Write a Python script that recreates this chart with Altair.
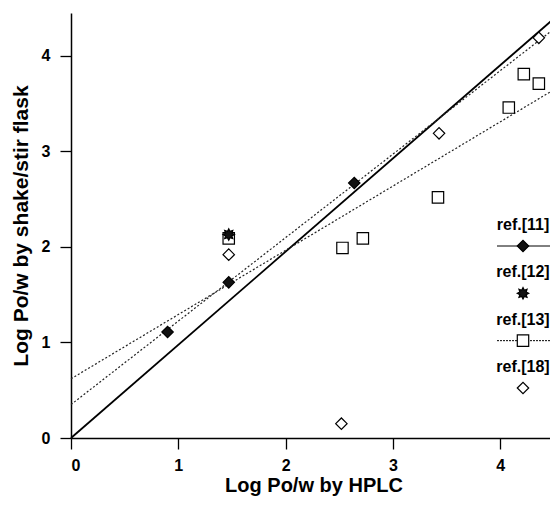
import altair as alt
import pandas as pd

FONT = "Liberation Sans"

# ---- data ----
series_names = ["ref.[11]", "ref.[12]", "ref.[13]", "ref.[18]"]

ref11_x = [0.90, 1.47, 2.64]
ref11_y = [1.11, 1.63, 2.67]
ref12_x = [1.47]
ref12_y = [2.13]
ref13_x = [1.47, 2.53, 2.72, 3.42, 4.08, 4.22, 4.36]
ref13_y = [2.09, 1.99, 2.09, 2.52, 3.46, 3.81, 3.71]
ref18_x = [1.47, 2.52, 3.43, 4.36]
ref18_y = [1.92, 0.15, 3.19, 4.19]

# reference / fitted lines: end points
solid_x = [0.0, 4.52]
solid_y = [0.0, 4.41]
fit_a_x = [0.0, 4.52]
fit_a_y = [0.62, 3.66]
fit_b_x = [0.0, 4.52]
fit_b_y = [0.35, 4.30]

x_ticks = [0, 1, 2, 3, 4]
y_ticks = [0, 1, 2, 3, 4]
x_domain = [0, 4.52]
y_domain = [0, 4.45]

# ---- tables ----
rows = []
# draw order: open squares, open diamonds, filled diamonds, star
for name, xs, ys in [("ref.[13]", ref13_x, ref13_y), ("ref.[18]", ref18_x, ref18_y),
                     ("ref.[11]", ref11_x, ref11_y), ("ref.[12]", ref12_x, ref12_y)]:
    for a, b in zip(xs, ys):
        rows.append({"series": name, "x": a, "y": b})
pts = pd.DataFrame(rows)

solid_df = pd.DataFrame({"x": solid_x, "y": solid_y})
fit_a_df = pd.DataFrame({"x": fit_a_x, "y": fit_a_y})
fit_b_df = pd.DataFrame({"x": fit_b_x, "y": fit_b_y})

leg = pd.DataFrame({"name": series_names})

STAR = ("M0,-1L0.23,-0.55L0.71,-0.71L0.55,-0.23L1,0L0.55,0.23L0.71,0.71L0.23,0.55L0,1"
        "L-0.23,0.55L-0.71,0.71L-0.55,0.23L-1,0L-0.55,-0.23L-0.71,-0.71L-0.23,-0.55Z")

shape_scale = alt.Scale(domain=series_names, range=["diamond", STAR, "square", "diamond"])
fill_scale = alt.Scale(domain=series_names, range=["#111111", "#111111", "#ffffff", "#ffffff"])
size_scale = alt.Scale(domain=series_names, range=[130, 130, 121, 95])

X = alt.X("x:Q", scale=alt.Scale(domain=x_domain, nice=False, zero=False),
          axis=alt.Axis(title="Log Po/w by HPLC", values=x_ticks, format="d", grid=False,
                        orient="bottom", labelPadding=8, titlePadding=2, titleFontSize=20))
Y = alt.Y("y:Q", scale=alt.Scale(domain=y_domain, nice=False, zero=False),
          axis=alt.Axis(title="Log Po/w by shake/stir flask", values=y_ticks, format="d",
                        grid=False, orient="left", labelPadding=10, titlePadding=10))

solid = alt.Chart(solid_df).mark_line(color="#000000", strokeWidth=1.8).encode(x=X, y=Y)
fit_a = alt.Chart(fit_a_df).mark_line(color="#222222", strokeWidth=1.2, strokeDash=[2, 2]).encode(x=X, y=Y)
fit_b = alt.Chart(fit_b_df).mark_line(color="#222222", strokeWidth=1.2, strokeDash=[2, 2]).encode(x=X, y=Y)

points = alt.Chart(pts).mark_point(filled=True, stroke="#000000", strokeWidth=1.2, opacity=1).encode(
    x=X, y=Y,
    shape=alt.Shape("series:N", scale=shape_scale, legend=None),
    fill=alt.Fill("series:N", scale=fill_scale, legend=None),
    size=alt.Size("series:N", scale=size_scale, legend=None),
)

# ---- legend drawn inside the plot: stacked entries via an offset scale ----
LOFF = alt.YOffset("name:N", scale=alt.Scale(type="point", domain=series_names,
                                             range=[0, 142], padding=0))

leg_rule11 = alt.Chart(leg).transform_filter(alt.datum.name == "ref.[11]").mark_rule(
    color="#000000", strokeWidth=1.0).encode(
    x=alt.value(426), x2=alt.value(479), y=alt.value(233), yOffset=LOFF)
leg_rule13 = alt.Chart(leg).transform_filter(alt.datum.name == "ref.[13]").mark_rule(
    color="#000000", strokeWidth=1.0, strokeDash=[2, 1]).encode(
    x=alt.value(426), x2=alt.value(479), y=alt.value(233), yOffset=LOFF)
leg_sym = alt.Chart(leg).mark_point(filled=True, stroke="#000000", strokeWidth=1.2, opacity=1).encode(
    x=alt.value(452), y=alt.value(233), yOffset=LOFF,
    shape=alt.Shape("name:N", scale=shape_scale, legend=None),
    fill=alt.Fill("name:N", scale=fill_scale, legend=None),
    size=alt.Size("name:N", scale=size_scale, legend=None),
)
leg_text = alt.Chart(leg).mark_text(font=FONT, fontSize=16, fontWeight="bold", color="#000000",
                                    align="center", baseline="middle").encode(
    x=alt.value(452), y=alt.value(212), yOffset=LOFF, text="name:N")

chart = alt.layer(solid, fit_a, fit_b, points, leg_rule11, leg_rule13, leg_sym, leg_text).properties(
    width=485, height=425,
    autosize=alt.AutoSizeParams(type="none"),
    padding={"left": 63, "top": 5, "right": -6, "bottom": 61},
    background="#ffffff",
).configure_view(strokeWidth=0).configure_axis(
    domainColor="#000000", domainWidth=1.5, tickColor="#000000", tickWidth=1.3, tickSize=11,
    labelFont=FONT, labelFontSize=16, labelFontWeight="bold", labelColor="#000000",
    titleFont=FONT, titleFontSize=21, titleFontWeight="bold", titleColor="#000000",
)

chart.save("out.html", embed_options={"renderer": "svg", "actions": False})
